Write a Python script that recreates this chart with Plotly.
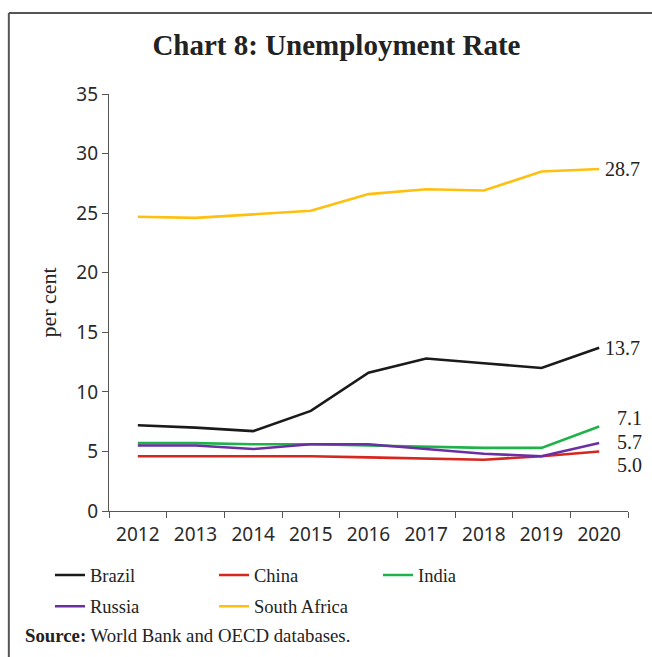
import plotly.graph_objects as go

# Unemployment rate (per cent), BRICS economies
years = ["2012", "2013", "2014", "2015", "2016", "2017", "2018", "2019", "2020"]
brazil = [7.2, 7.0, 6.7, 8.4, 11.6, 12.8, 12.4, 12.0, 13.7]
china = [4.6, 4.6, 4.6, 4.6, 4.5, 4.4, 4.3, 4.6, 5.0]
india = [5.7, 5.7, 5.6, 5.6, 5.5, 5.4, 5.3, 5.3, 7.1]
russia = [5.5, 5.5, 5.2, 5.6, 5.6, 5.2, 4.8, 4.6, 5.7]
south_africa = [24.7, 24.6, 24.9, 25.2, 26.6, 27.0, 26.9, 28.5, 28.7]

y_ticks = [0, 5, 10, 15, 20, 25, 30, 35]

# name, values, colour, legend row
series = [
    ("Brazil", brazil, "#1a1a1a", "legend"),
    ("China", china, "#d7261e", "legend"),
    ("India", india, "#1fb24a", "legend"),
    ("Russia", russia, "#6a30a3", "legend2"),
    ("South Africa", south_africa, "#ffbf0f", "legend2"),
]

serif = "Liberation Serif"
sans = "Noto Sans"

fig = go.Figure()
for name, vals, color, leg in series:
    fig.add_trace(go.Scatter(
        x=years, y=vals, name=name, mode="lines", legend=leg,
        line=dict(color=color, width=2.6),
    ))

# End-of-series value labels at the last year
last = len(years) - 1
end_labels = [
    (south_africa, "left", 4, 0),
    (brazil, "left", 4, 0),
    (india, "right", 45, 8),
    (russia, "right", 45, 1),
    (china, "right", 45, -14),
]
for vals, anchor, dx, dy in end_labels:
    fig.add_annotation(
        x=last, y=vals[-1], text=f"{vals[-1]:.1f}",
        xref="x", yref="y", xanchor=anchor, yanchor="middle",
        xshift=dx, yshift=dy, showarrow=False,
        font=dict(family=serif, size=20, color="#222"),
    )

legend_style = dict(
    orientation="h", x=-0.1137, xanchor="left", yanchor="top",
    entrywidth=119, entrywidthmode="pixels",
    font=dict(family=serif, size=18.5, color="#222"),
    itemclick=False, itemdoubleclick=False, bgcolor="rgba(0,0,0,0)",
)

fig.update_layout(
    width=652, height=657,
    margin=dict(l=109, r=24, t=94, b=146),
    paper_bgcolor="white", plot_bgcolor="white",
    title=dict(
        text="<b>Chart 8: Unemployment Rate</b>",
        x=0.516, xref="container", xanchor="center",
        y=0.9315, yref="container", yanchor="middle",
        font=dict(family=serif, size=29, color="#222"),
    ),
    showlegend=True,
    legend=dict(y=-0.109, **legend_style),
    legend2=dict(y=-0.184, **legend_style),
    xaxis=dict(
        type="category", showgrid=False, zeroline=False,
        showline=True, linecolor="#555", linewidth=1.2,
        ticks="outside", ticklen=6, tickcolor="#555", tickson="boundaries",
        tickfont=dict(family=sans, size=19, color="#2a2a2a"),
        ticklabelstandoff=6,
        range=[-0.5, 8.5],
    ),
    yaxis=dict(
        range=[0, 35], tickvals=y_ticks, showgrid=False, zeroline=False,
        showline=True, linecolor="#555", linewidth=1.2,
        ticks="outside", ticklen=6, tickcolor="#555",
        tickfont=dict(family=sans, size=19, color="#2a2a2a"),
        title=dict(text="per cent", standoff=13,
                   font=dict(family=serif, size=22, color="#222")),
    ),
)

# Panel frame (top and left rules)
fig.add_shape(type="line", xref="paper", yref="paper",
              x0=-0.193, x1=1.1, y0=1.194, y1=1.194,
              line=dict(color="#555", width=2))
fig.add_shape(type="line", xref="paper", yref="paper",
              x0=-0.193, x1=-0.193, y0=1.194, y1=-0.4,
              line=dict(color="#555", width=2))

fig.add_annotation(
    text="<b>Source:</b> World Bank and OECD databases.",
    xref="paper", yref="paper", x=-0.165, y=-0.298,
    xanchor="left", yanchor="middle", showarrow=False,
    font=dict(family=serif, size=18.8, color="#222"),
)

fig.write_html("out.html")
